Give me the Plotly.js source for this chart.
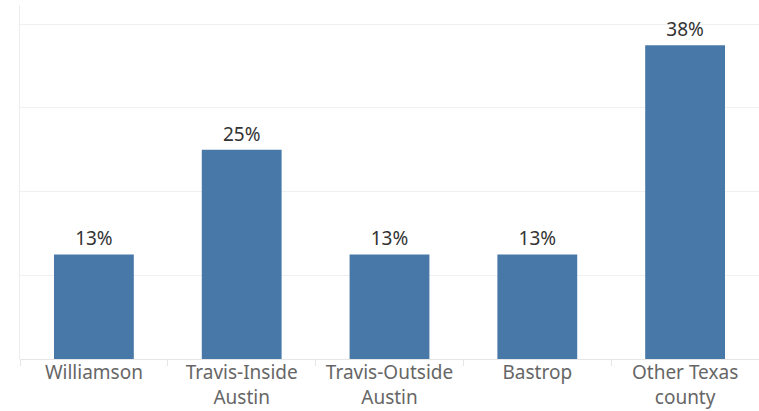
<!DOCTYPE html>
<html>
<head>
<meta charset="utf-8">
<script src="https://cdn.plot.ly/plotly-3.0.1.min.js"></script>
<style>html,body{margin:0;padding:0;background:#fff;}#chart{width:759px;height:411px;}</style>
</head>
<body>
<div id="chart"></div>
<script>
const categories = ["Williamson", "Travis-Inside<br>Austin", "Travis-Outside<br>Austin", "Bastrop", "Other Texas<br>county"];
const values = [12.5, 25, 12.5, 12.5, 37.5];
const labels = values.map(v => Math.round(v) + "%");

const trace = {
  type: "bar",
  x: categories,
  y: values,
  text: labels,
  textposition: "outside",
  cliponaxis: false,
  textfont: {family: "Noto Sans, sans-serif", size: 19, color: "#333333"},
  marker: {color: "#4878a8", line: {width: 0}},
  width: 0.54,
  hoverinfo: "none"
};

const layout = {
  width: 759, height: 411,
  margin: {l: 20, r: 0, t: 5, b: 52},
  paper_bgcolor: "#ffffff", plot_bgcolor: "#ffffff",
  showlegend: false,
  bargap: 0.46,
  xaxis: {
    type: "category",
    tickson: "boundaries",
    ticks: "outside", ticklen: 6, tickcolor: "#e6e6e6", tickwidth: 1,
    showgrid: false,
    showline: false,
    tickfont: {family: "Noto Sans, sans-serif", size: 19, color: "#666666"},
    fixedrange: true
  },
  yaxis: {
    range: [0, 42.3],
    dtick: 10, tick0: 0,
    showgrid: true, gridcolor: "#f0f0f0", gridwidth: 1,
    zeroline: true, zerolinecolor: "#e6e6e6", zerolinewidth: 1,
    showline: true, linecolor: "#ececec", linewidth: 1,
    showticklabels: false, ticks: "",
    fixedrange: true
  }
};

Plotly.newPlot("chart", [trace], layout, {displayModeBar: false, staticPlot: true});
</script>
</body>
</html>
